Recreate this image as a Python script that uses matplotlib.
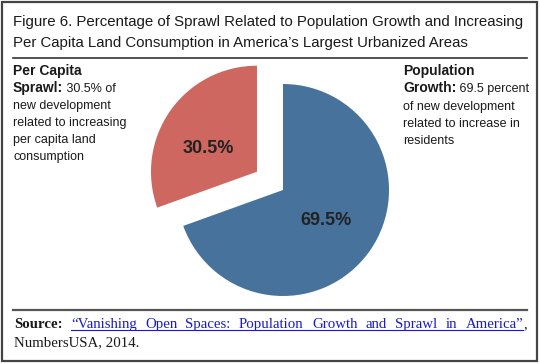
import matplotlib
matplotlib.use("Agg")

import matplotlib.pyplot as plt
from matplotlib.patches import Rectangle

# data
shares = [69.5, 30.5]
slice_names = ["Population Growth", "Per Capita Sprawl"]
slice_colors = ["#47729b", "#cd675f"]
explode = [0, 0.3]

title_lines = [
    "Figure 6. Percentage of Sprawl Related to Population Growth and Increasing",
    "Per Capita Land Consumption in America\u2019s Largest Urbanized Areas",
]

# (bold part, normal part) per line
left_note = [
    ("Per Capita", ""),
    ("Sprawl:", " 30.5% of"),
    ("", "new development"),
    ("", "related to increasing"),
    ("", "per capita land"),
    ("", "consumption"),
]
right_note = [
    ("Population", ""),
    ("Growth:", " 69.5 percent"),
    ("", "of new development"),
    ("", "related to increase in"),
    ("", "residents"),
]

source_label = "Source:"
source_link = "\u201cVanishing Open Spaces: Population Growth and Sprawl in America\u201d"
source_tail = "NumbersUSA, 2014."

W, H = 540, 364
fig = plt.figure(figsize=(W / 100, H / 100), dpi=100)
fig.patch.set_facecolor("white")
renderer = fig.canvas.get_renderer()

ov = fig.add_axes([0, 0, 1, 1])
ov.set_xlim(0, W)
ov.set_ylim(H, 0)
ov.axis("off")

SANS = "Liberation Sans"


def width_px(t):
    return t.get_window_extent(renderer).width


# frame and rules
ov.add_patch(Rectangle((2, 2), W - 5, H - 5, fill=False, edgecolor="#444444", linewidth=1.6))
ov.plot([13, 527], [58, 58], color="#333333", linewidth=1.2)
ov.plot([13, 527], [310, 310], color="#555555", linewidth=1.6)

# title, sized so the first line spans the rule
t0 = ov.text(13, 26, title_lines[0], fontsize=10, family=SANS, va="baseline")
title_size = 10 * 513 / width_px(t0)
t0.remove()
for i, line in enumerate(title_lines):
    ov.text(13, 26 + i * 21, line, fontsize=title_size, family=SANS,
            color="#1a1a1a", va="baseline")


def draw_note(x, y0, step, lines):
    for i, (b, n) in enumerate(lines):
        y = y0 + i * step
        xx = x
        if b:
            t = ov.text(xx, y, b, fontsize=10, family=SANS, fontweight="bold",
                        color="#1a1a1a", va="baseline")
            xx += width_px(t)
        if n:
            ov.text(xx, y, n, fontsize=9, family=SANS,
                    color="#1a1a1a", va="baseline")


draw_note(13, 75, 17, left_note)
draw_note(403, 75, 17.3, right_note)

# pie, centre at (283, 190) px with radius 106 px
ax = fig.add_axes([130 / W, (H - 340) / H, 306 / W, 300 / H])
wedges, _, autotexts = ax.pie(
    shares, colors=slice_colors, explode=explode, startangle=90, counterclock=False,
    autopct="%.1f%%", pctdistance=0.5,
    textprops=dict(fontsize=13, fontweight="bold", color="#222222", family=SANS),
    wedgeprops=dict(linewidth=0),
)
px, py = autotexts[1].get_position()
autotexts[1].set_position((px - 0.05, py - 0.07))
ax.set_xlim(-153 / 106, 153 / 106)
ax.set_ylim(-150 / 106, 150 / 106)

# source, first line justified
src_font = dict(fontsize=10.7, family="Liberation Serif", va="baseline")
y1, y2 = 328, 346
x_left, x_right = 14, 527
words = [(source_label, "bold", "#1a1a1a")]
words += [(w, "normal", "#1a1acc") for w in source_link.split(" ")]
words.append((",", "normal", "#1a1a1a"))
texts = [ov.text(0, y1, w, fontweight=fw, color=c, **src_font) for w, fw, c in words]
widths = [width_px(t) for t in texts]
# comma sits right after the closing quote
gap = (x_right - x_left - sum(widths)) / (len(texts) - 2)
xx = x_left
link_start = link_end = None
for i, (t, w) in enumerate(zip(texts, widths)):
    t.set_x(xx)
    if i == 1:
        link_start = xx
    if i == len(texts) - 2:
        link_end = xx + w
    xx += w + (gap if i < len(texts) - 2 else 0)
ov.plot([link_start, link_end], [y1 + 2, y1 + 2], color="#1a1acc", linewidth=0.8)
ov.text(x_left, y2, source_tail, color="#1a1a1a", **src_font)

fig.savefig("out.png", dpi=100)
